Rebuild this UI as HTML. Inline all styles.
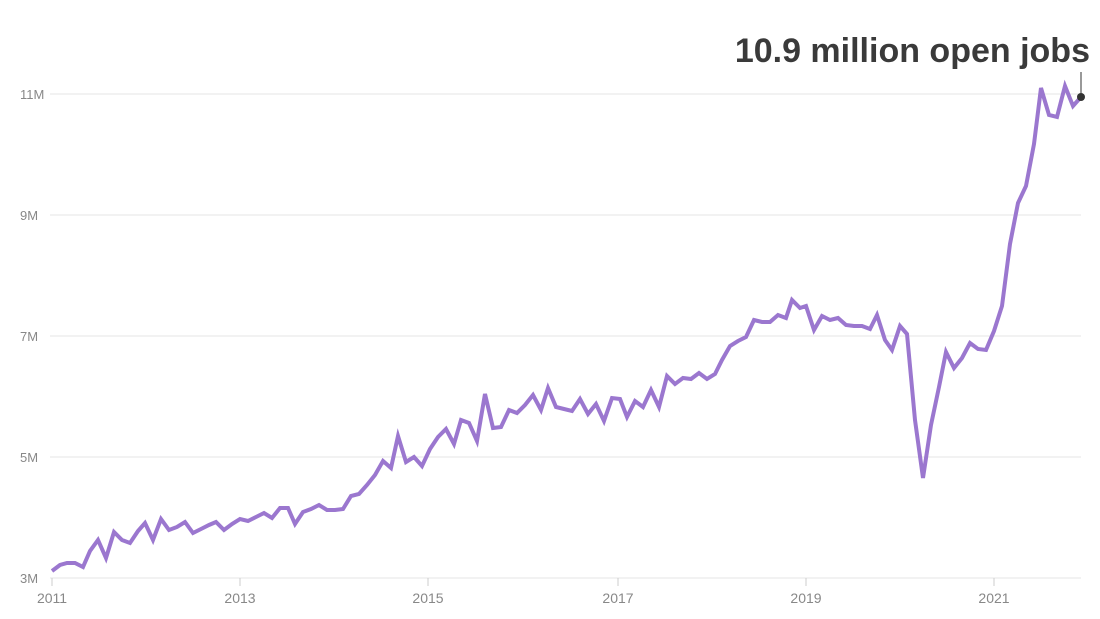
<!DOCTYPE html>
<html><head><meta charset="utf-8"><style>
body{margin:0;background:#fff;}
svg{display:block;font-family:"Liberation Sans",sans-serif;}
.yl{font-size:13px;fill:#888;}
.xl{font-size:14px;fill:#888;text-anchor:middle;}
</style></head><body>
<svg width="1100" height="619" viewBox="0 0 1100 619">
<g stroke="#e6e6e6" stroke-width="1">
<line x1="50" y1="94" x2="1081" y2="94"/>
<line x1="50" y1="215" x2="1081" y2="215"/>
<line x1="50" y1="336" x2="1081" y2="336"/>
<line x1="50" y1="457" x2="1081" y2="457"/>
<line x1="50" y1="578" x2="1081" y2="578"/>
</g>
<g stroke="#ccc"><line x1="52" y1="578" x2="52" y2="586"/><line x1="240" y1="578" x2="240" y2="586"/><line x1="428" y1="578" x2="428" y2="586"/><line x1="618" y1="578" x2="618" y2="586"/><line x1="806" y1="578" x2="806" y2="586"/><line x1="994" y1="578" x2="994" y2="586"/></g>
<text class="yl" x="20" y="99">11M</text>
<text class="yl" x="20" y="220">9M</text>
<text class="yl" x="20" y="341">7M</text>
<text class="yl" x="20" y="462">5M</text>
<text class="yl" x="20" y="583">3M</text>
<text class="xl" x="52" y="603">2011</text>
<text class="xl" x="240" y="603">2013</text>
<text class="xl" x="428" y="603">2015</text>
<text class="xl" x="618" y="603">2017</text>
<text class="xl" x="806" y="603">2019</text>
<text class="xl" x="994" y="603">2021</text>
<polyline fill="none" stroke="#9b77cf" stroke-width="4" stroke-linejoin="miter" points="52,571 60,565 67,563 75,563 83,567 90,551 98,540 106,558 114,532 122,540 130,543 138,531 145,523 153,540 161,519 169,530 177,527 185,522 193,533 201,529 209,525 216,522 224,530 232,524 240,519 248,521 256,517 264,513 272,518 280,508 288,508 295,524 303,512 311,509 319,505 327,510 335,510 343,509 351,496 359,494 367,485 375,475 383,461 391,468 398,436 406,462 414,457 422,466 430,449 438,437 446,429 454,444 461,420 469,423 477,441 485,394 493,428 501,427 509,410 517,413 525,405 533,395 541,410 548,388 556,407 564,409 572,411 580,399 588,414 596,404 604,421 612,398 620,399 627,417 635,401 643,407 651,390 659,407 667,376 675,384 683,378 691,379 699,373 707,379 715,374 722,360 730,346 738,341 746,337 754,320 762,322 770,322 778,315 786,318 792,300 800,308 806,306 814,330 822,316 830,320 838,318 846,325 854,326 862,326 870,329 877,315 885,340 892,350 900,326 907,334 915,420 923,478 931,425 939,387 946,352 954,368 962,358 970,343 978,349 986,350 994,331 1002,306 1010,244 1018,203 1026,186 1034,144 1041,88 1049,115 1057,117 1065,86 1073,106 1081,97"/>
<line x1="1081" y1="72" x2="1081" y2="97" stroke="#333" stroke-width="1"/>
<circle cx="1081" cy="97" r="4" fill="#333"/>
<text x="1090" y="62" text-anchor="end" style="font-size:34px;font-weight:bold;fill:#3a3a3a;">10.9 million open jobs</text>
</svg>
</body></html>
